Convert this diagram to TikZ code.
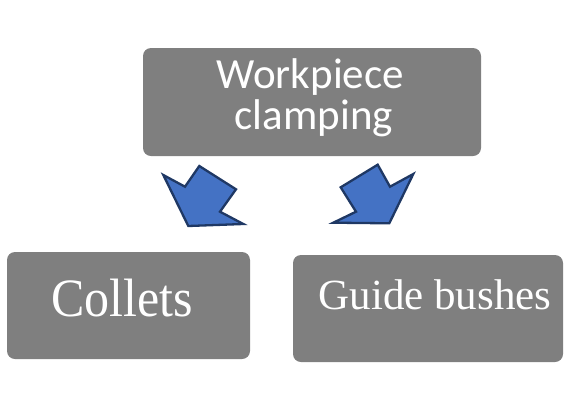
\documentclass[tikz,border=0pt]{standalone}
\usepackage{fontspec}
\newfontfamily\carlitofont{Carlito}
\newfontfamily\serifmain{Liberation Serif}
\definecolor{boxgray}{HTML}{7F7F7F}
\definecolor{arrowfill}{HTML}{4472C4}
\definecolor{arrowline}{HTML}{1F3864}
\tikzset{
  graybox/.style={fill=boxgray, draw=none, rounded corners=8pt, inner sep=0pt, outer sep=0pt},
  toplabel/.style={text=white, inner sep=0pt, anchor=base west, font=\carlitofont\fontsize{43}{43}\selectfont},
  bottomlabel/.style={text=white, inner sep=0pt, anchor=base west, font=\serifmain\fontsize{47}{47}\selectfont},
  blockarrow/.style={fill=arrowfill, draw=arrowline, line width=2.3pt, line join=miter}
}
\begin{document}
\begin{tikzpicture}[x=1pt,y=-1pt]
\useasboundingbox (0,0) rectangle (571,400);
% boxes
\node[graybox, minimum width=338pt, minimum height=108pt] (top) at (312,102) {};
\node[graybox, minimum width=243pt, minimum height=107pt] (collets) at (128.5,305.5) {};
\node[graybox, minimum width=270pt, minimum height=107pt] (guide) at (428,308.5) {};
% labels
\node[toplabel] (t1) at (216.5,88.3) {Workpiece};
\node[toplabel] (t2) at (234.5,129) {clamping};
\node[bottomlabel, font=\serifmain\fontsize{50}{50}\selectfont] (t3) at (51,316.7) {\scalebox{1}[1.08]{Collets}};
\node[bottomlabel, font=\serifmain\fontsize{43}{43}\selectfont] (t4) at (318.3,309.3) {Guide bushes};
% block arrows
\draw[blockarrow] (163.3,175) -- (185,186.7) -- (199.3,166) -- (236,189.3) -- (220,211.7) -- (243.3,224) -- (188.3,226) -- cycle;
\draw[blockarrow] (413.3,174) -- (390,186.7) -- (377.7,164.7) -- (340.7,187.3) -- (356,211.7) -- (333.3,222.7) -- (389.3,223.3) -- cycle;
\end{tikzpicture}
\end{document}
